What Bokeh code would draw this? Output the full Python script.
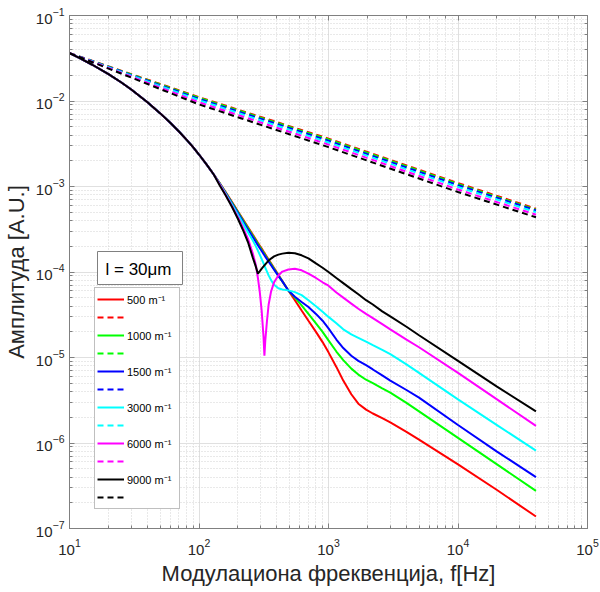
import numpy as np
from bokeh.plotting import figure
from bokeh.models import Range1d, LogAxis, Legend, LegendItem, Label, CustomJSTickFormatter
from bokeh.core.properties import value
from bokeh.embed import file_html
from bokeh.resources import INLINE

# ---------------- data ----------------
# modulation frequency [Hz] for the solid curves
freq = [10, 12, 15, 20, 25, 30, 40, 50, 60, 70, 80, 90, 100, 115, 130, 145, 160,
        180, 200, 220, 240, 260, 275, 285, 295, 305, 315, 320, 325, 335, 345, 360,
        380, 410, 440, 490, 550, 620, 700, 800, 900, 1000, 1150, 1300, 1500, 1700,
        1950, 2200, 2600, 3000, 4000, 5000, 10000, 20000, 40000]

# common low-frequency part (10 ... 130 Hz), log10 of amplitude [A.U.]
trunk_log = [-1.44, -1.498, -1.576, -1.686, -1.781, -1.866, -2.014, -2.142, -2.255,
             -2.357, -2.451, -2.540, -2.626, -2.748, -2.860]

# log10 of amplitude [A.U.] from 145 Hz on - solid curves
red_tail = [-2.964, -3.063, -3.183, -3.292, -3.389, -3.479, -3.562, -3.619, -3.657,
            -3.693, -3.726, -3.760, -3.776, -3.793, -3.824, -3.855, -3.898, -3.955,
            -4.034, -4.105, -4.217, -4.33, -4.45, -4.57, -4.70, -4.82, -4.94, -5.11,
            -5.27, -5.43, -5.54, -5.61, -5.655, -5.71, -5.76, -5.87, -5.96, -6.25,
            -6.55, -6.86]
green_tail = [-2.967, -3.068, -3.19, -3.30, -3.40, -3.49, -3.575, -3.632, -3.670,
              -3.706, -3.739, -3.772, -3.788, -3.805, -3.836, -3.866, -3.908, -3.963,
              -4.04, -4.11, -4.217, -4.30, -4.39, -4.49, -4.60, -4.70, -4.80, -4.93,
              -5.03, -5.13, -5.20, -5.26, -5.30, -5.36, -5.41, -5.53, -5.63, -5.94,
              -6.25, -6.56]
blue_tail = [-2.97, -3.073, -3.20, -3.31, -3.415, -3.505, -3.59, -3.648, -3.686,
             -3.722, -3.755, -3.788, -3.804, -3.820, -3.850, -3.880, -3.920, -3.973,
             -4.045, -4.11, -4.217, -4.29, -4.35, -4.41, -4.49, -4.57, -4.66, -4.79,
             -4.89, -4.98, -5.04, -5.09, -5.14, -5.21, -5.27, -5.38, -5.47, -5.79,
             -6.10, -6.40]
cyan_tail = [-2.975, -3.08, -3.21, -3.33, -3.44, -3.54, -3.63, -3.70, -3.75, -3.80,
             -3.85, -3.90, -3.925, -3.95, -3.995, -4.04, -4.095, -4.15, -4.19, -4.205,
             -4.215, -4.235, -4.27, -4.33, -4.40, -4.465, -4.525, -4.60, -4.67, -4.73,
             -4.77, -4.815, -4.855, -4.91, -4.96, -5.08, -5.18, -5.49, -5.79, -6.09]
magenta_tail = [-2.98, -3.09, -3.23, -3.36, -3.49, -3.62, -3.78, -3.92, -4.07, -4.24,
                -4.46, -4.76, -4.98, -4.80, -4.57, -4.38, -4.23, -4.12, -4.04, -3.995,
                -3.97, -3.963, -3.98, -4.02, -4.07, -4.12, -4.16, -4.24, -4.30, -4.37,
                -4.43, -4.49, -4.54, -4.61, -4.67, -4.79, -4.88, -5.18, -5.49, -5.80]
black_tail = [-2.99, -3.10, -3.24, -3.38, -3.52, -3.66, -3.83, -3.94, -4.02, -3.99,
              -3.96, -3.935, -3.922, -3.91, -3.887, -3.866, -3.843, -3.818, -3.797,
              -3.785, -3.776, -3.78, -3.805, -3.84, -3.90, -3.95, -4.0, -4.07, -4.13,
              -4.20, -4.26, -4.33, -4.38, -4.46, -4.52, -4.64, -4.74, -5.04, -5.34,
              -5.63]

# dashed curves
dash_freq = [10, 100, 1000, 10000, 40000]
red_dash_log = [-1.44, -1.955, -2.44, -2.96, -3.26]
green_dash_log = [-1.44, -1.962, -2.45, -2.97, -3.27]
blue_dash_log = [-1.44, -1.975, -2.465, -2.985, -3.28]
cyan_dash_log = [-1.44, -1.99, -2.485, -3.005, -3.30]
magenta_dash_log = [-1.44, -2.015, -2.51, -3.035, -3.33]
black_dash_log = [-1.44, -2.04, -2.54, -3.065, -3.36]

series_labels = ["500 m⁻¹", "1000 m⁻¹", "1500 m⁻¹", "3000 m⁻¹", "6000 m⁻¹", "9000 m⁻¹"]
series_colors = ["#ff0000", "#00ff00", "#0000ff", "#00ffff", "#ff00ff", "#000000"]
solid_tails = [red_tail, green_tail, blue_tail, cyan_tail, magenta_tail, black_tail]
dash_logs = [red_dash_log, green_dash_log, blue_dash_log, cyan_dash_log,
             magenta_dash_log, black_dash_log]

x_title = "Модулациона фреквенција, f[Hz]"
y_title = "Амплитуда [A.U.]"
note_text = "l = 30μm"

# ---------------- figure ----------------
FONT = "Liberation Sans"
TXT = "#262626"
FRAME = "#808080"

p = figure(width=600, height=592, x_axis_type="log", y_axis_type="log",
           x_range=Range1d(10, 1e5), y_range=Range1d(1e-7, 1e-1),
           output_backend="svg", toolbar_location=None,
           min_border_left=67, min_border_right=13, min_border_top=15,
           min_border_bottom=64)
p.outline_line_color = FRAME
p.background_fill_color = "white"
p.border_fill_color = "white"

def style_axis(ax):
    ax.axis_line_color = FRAME
    ax.major_tick_line_color = FRAME
    ax.minor_tick_line_color = FRAME
    ax.major_tick_in = 5
    ax.major_tick_out = 0
    ax.minor_tick_in = 3
    ax.minor_tick_out = 0
    ax.major_label_text_font = FONT
    ax.major_label_text_color = TXT
    ax.major_label_text_font_size = "15px"
    ax.axis_label_text_font = FONT
    ax.axis_label_text_font_size = "22px"
    ax.axis_label_text_font_style = "normal"
    ax.axis_label_text_color = TXT

for ax in p.xaxis + p.yaxis:
    style_axis(ax)
p.xaxis.axis_label = x_title
p.yaxis.axis_label = y_title
p.xaxis.major_label_standoff = 10
p.xaxis.axis_label_standoff = 3
p.yaxis.major_label_standoff = 5
p.yaxis.axis_label_standoff = 4

blank = CustomJSTickFormatter(code="return '';")
top_axis = LogAxis(formatter=blank)
style_axis(top_axis)
top_axis.major_label_standoff = 0
p.add_layout(top_axis, "above")
right_axis = LogAxis(formatter=blank)
style_axis(right_axis)
right_axis.major_label_standoff = 0
p.add_layout(right_axis, "right")

for g in (p.xgrid, p.ygrid):
    g.grid_line_color = "#e0e0e0"
    g.grid_line_width = 1
    g.minor_grid_line_color = "#d2d2d2"
    g.minor_grid_line_dash = "1 2"
    g.minor_grid_line_width = 1

items = []
for lab, col, tail, dsh in zip(series_labels, series_colors, solid_tails, dash_logs):
    sol = np.array(trunk_log + tail)
    r1 = p.line(freq, 10 ** sol, line_color=col, line_width=2)
    r2 = p.line(dash_freq, 10 ** np.array(dsh), line_color=col, line_width=2,
                line_dash="6 4")
    items.append(LegendItem(label=value(lab), renderers=[r1]))
    items.append(LegendItem(label=value(" "), renderers=[r2]))

legend = Legend(items=items, location=(25, 19), orientation="vertical",
                glyph_width=27, glyph_height=18, label_height=18, label_width=50,
                label_standoff=3, spacing=0, padding=2, margin=0,
                label_text_font=FONT, label_text_font_size="11px",
                label_text_color="#000000",
                border_line_color=FRAME, border_line_width=1,
                background_fill_color="white", background_fill_alpha=1.0)
p.add_layout(legend)

note = Label(x=28, y=244, x_units="screen", y_units="screen", text=note_text,
             text_font=FONT, text_font_size="17px", text_color="#000000",
             text_align="left", text_baseline="bottom",
             border_line_color=FRAME, border_line_width=1,
             background_fill_color="white", padding=(8, 11, 8, 6))
p.add_layout(note)

open("out.html", "w").write(file_html(p, INLINE))
